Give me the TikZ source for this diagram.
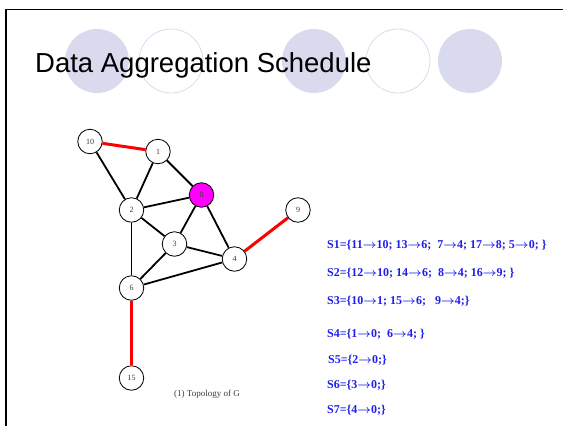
\documentclass[tikz,border=0pt]{standalone}
\usepackage{amsmath}
\usepackage{fontspec}
\setmainfont{Liberation Serif}
\newfontfamily\titlefont{Liberation Sans}
\usetikzlibrary{positioning,backgrounds}
\definecolor{agLilac}{RGB}{218,218,238}
\definecolor{agMagenta}{RGB}{255,0,255}
\definecolor{agRed}{RGB}{255,0,0}
\definecolor{agBlue}{RGB}{30,30,235}
\definecolor{agGray}{RGB}{60,60,60}
\newcommand{\agg}{$\boldsymbol{\rightarrow}$}

\begin{document}
\begin{tikzpicture}[x=1pt, y=-1pt,
  vert/.style={circle, draw, line width=0.8pt, fill=white, minimum size=24.5pt, inner sep=0pt, font=\fontsize{8}{9}\selectfont, text=agGray},
  link/.style={line width=1.8pt},
  tree/.style={line width=3pt, agRed},
  sched/.style={anchor=base west, inner sep=0pt, text=agBlue, font=\fontsize{12}{14}\selectfont\bfseries}]
  \useasboundingbox (0,0) rectangle (563,426);

  % Slide frame
  \draw[line width=1.5pt] (6,426) -- (6,9.5) -- (563,9.5);

  % Title circles
  \fill[agLilac] (97,61) circle (32);
  \draw[agLilac, line width=0.8pt] (171,61) circle (32);
  \fill[agLilac] (314,61) circle (32);
  \draw[agLilac, line width=0.8pt] (398,61) circle (32);
  \fill[agLilac] (470,61) circle (32);
  \node[anchor=base west, inner sep=0pt, font=\titlefont\fontsize{27.5}{32}\selectfont] (title) at (35,72) {Data Aggregation Schedule};

  % Topology of G
  \node[vert] (n10) at (90,141.5) {10};
  \node[vert] (n1) at (158,151.5) {1};
  \node[vert, fill=agMagenta] (n0) at (201.5,195) {0};
  \node[vert] (n2) at (131.5,210) {2};
  \node[vert] (n9) at (298,210) {9};
  \node[vert] (n3) at (174.5,244) {3};
  \node[vert] (n4) at (234.5,259) {4};
  \node[vert] (n6) at (131.5,288) {6};
  \node[vert] (n15) at (131.5,378) {15};

  \begin{scope}[on background layer]
  \draw[link] (n10) -- (n2);
  \draw[link] (n1) -- (n2);
  \draw[link] (n1) -- (n0);
  \draw[link] (n2) -- (n0);
  \draw[link] (n2) -- (n3);
  \draw[link] (n2) -- (n6);
  \draw[link] (n3) -- (n0);
  \draw[link] (n3) -- (n6);
  \draw[link] (n3) -- (n4);
  \draw[link] (n0) -- (n4);
  \draw[link] (n6) -- (n4);
  \draw[tree] (n10) -- (n1);
  \draw[tree] (n4) -- (n9);
  \draw[tree] (n6) -- (n15);
  \end{scope}

  \node[font=\fontsize{9}{10}\selectfont, text=agGray] (cap) at (207,394) {(1) Topology of G};

  % Schedule
  \node[sched] (s1) at (327,248) {S1=\{11\agg10; 13\agg6;\ \ 7\agg4; 17\agg8; 5\agg0;\ \}};
  \node[sched] (s2) at (327,276) {S2=\{12\agg10; 14\agg6;\ \ 8\agg4; 16\agg9; \}};
  \node[sched] (s3) at (327,304.5) {S3=\{10\agg1; 15\agg6;\ \ \ 9\agg4;\}};
  \node[sched] (s4) at (327,337) {S4=\{1\agg0;\ \ 6\agg4; \}};
  \node[sched] (s5) at (328,363) {S5=\{2\agg0;\}};
  \node[sched] (s6) at (327,388) {S6=\{3\agg0;\}};
  \node[sched] (s7) at (327,413) {S7=\{4\agg0;\}};
\end{tikzpicture}
\end{document}
